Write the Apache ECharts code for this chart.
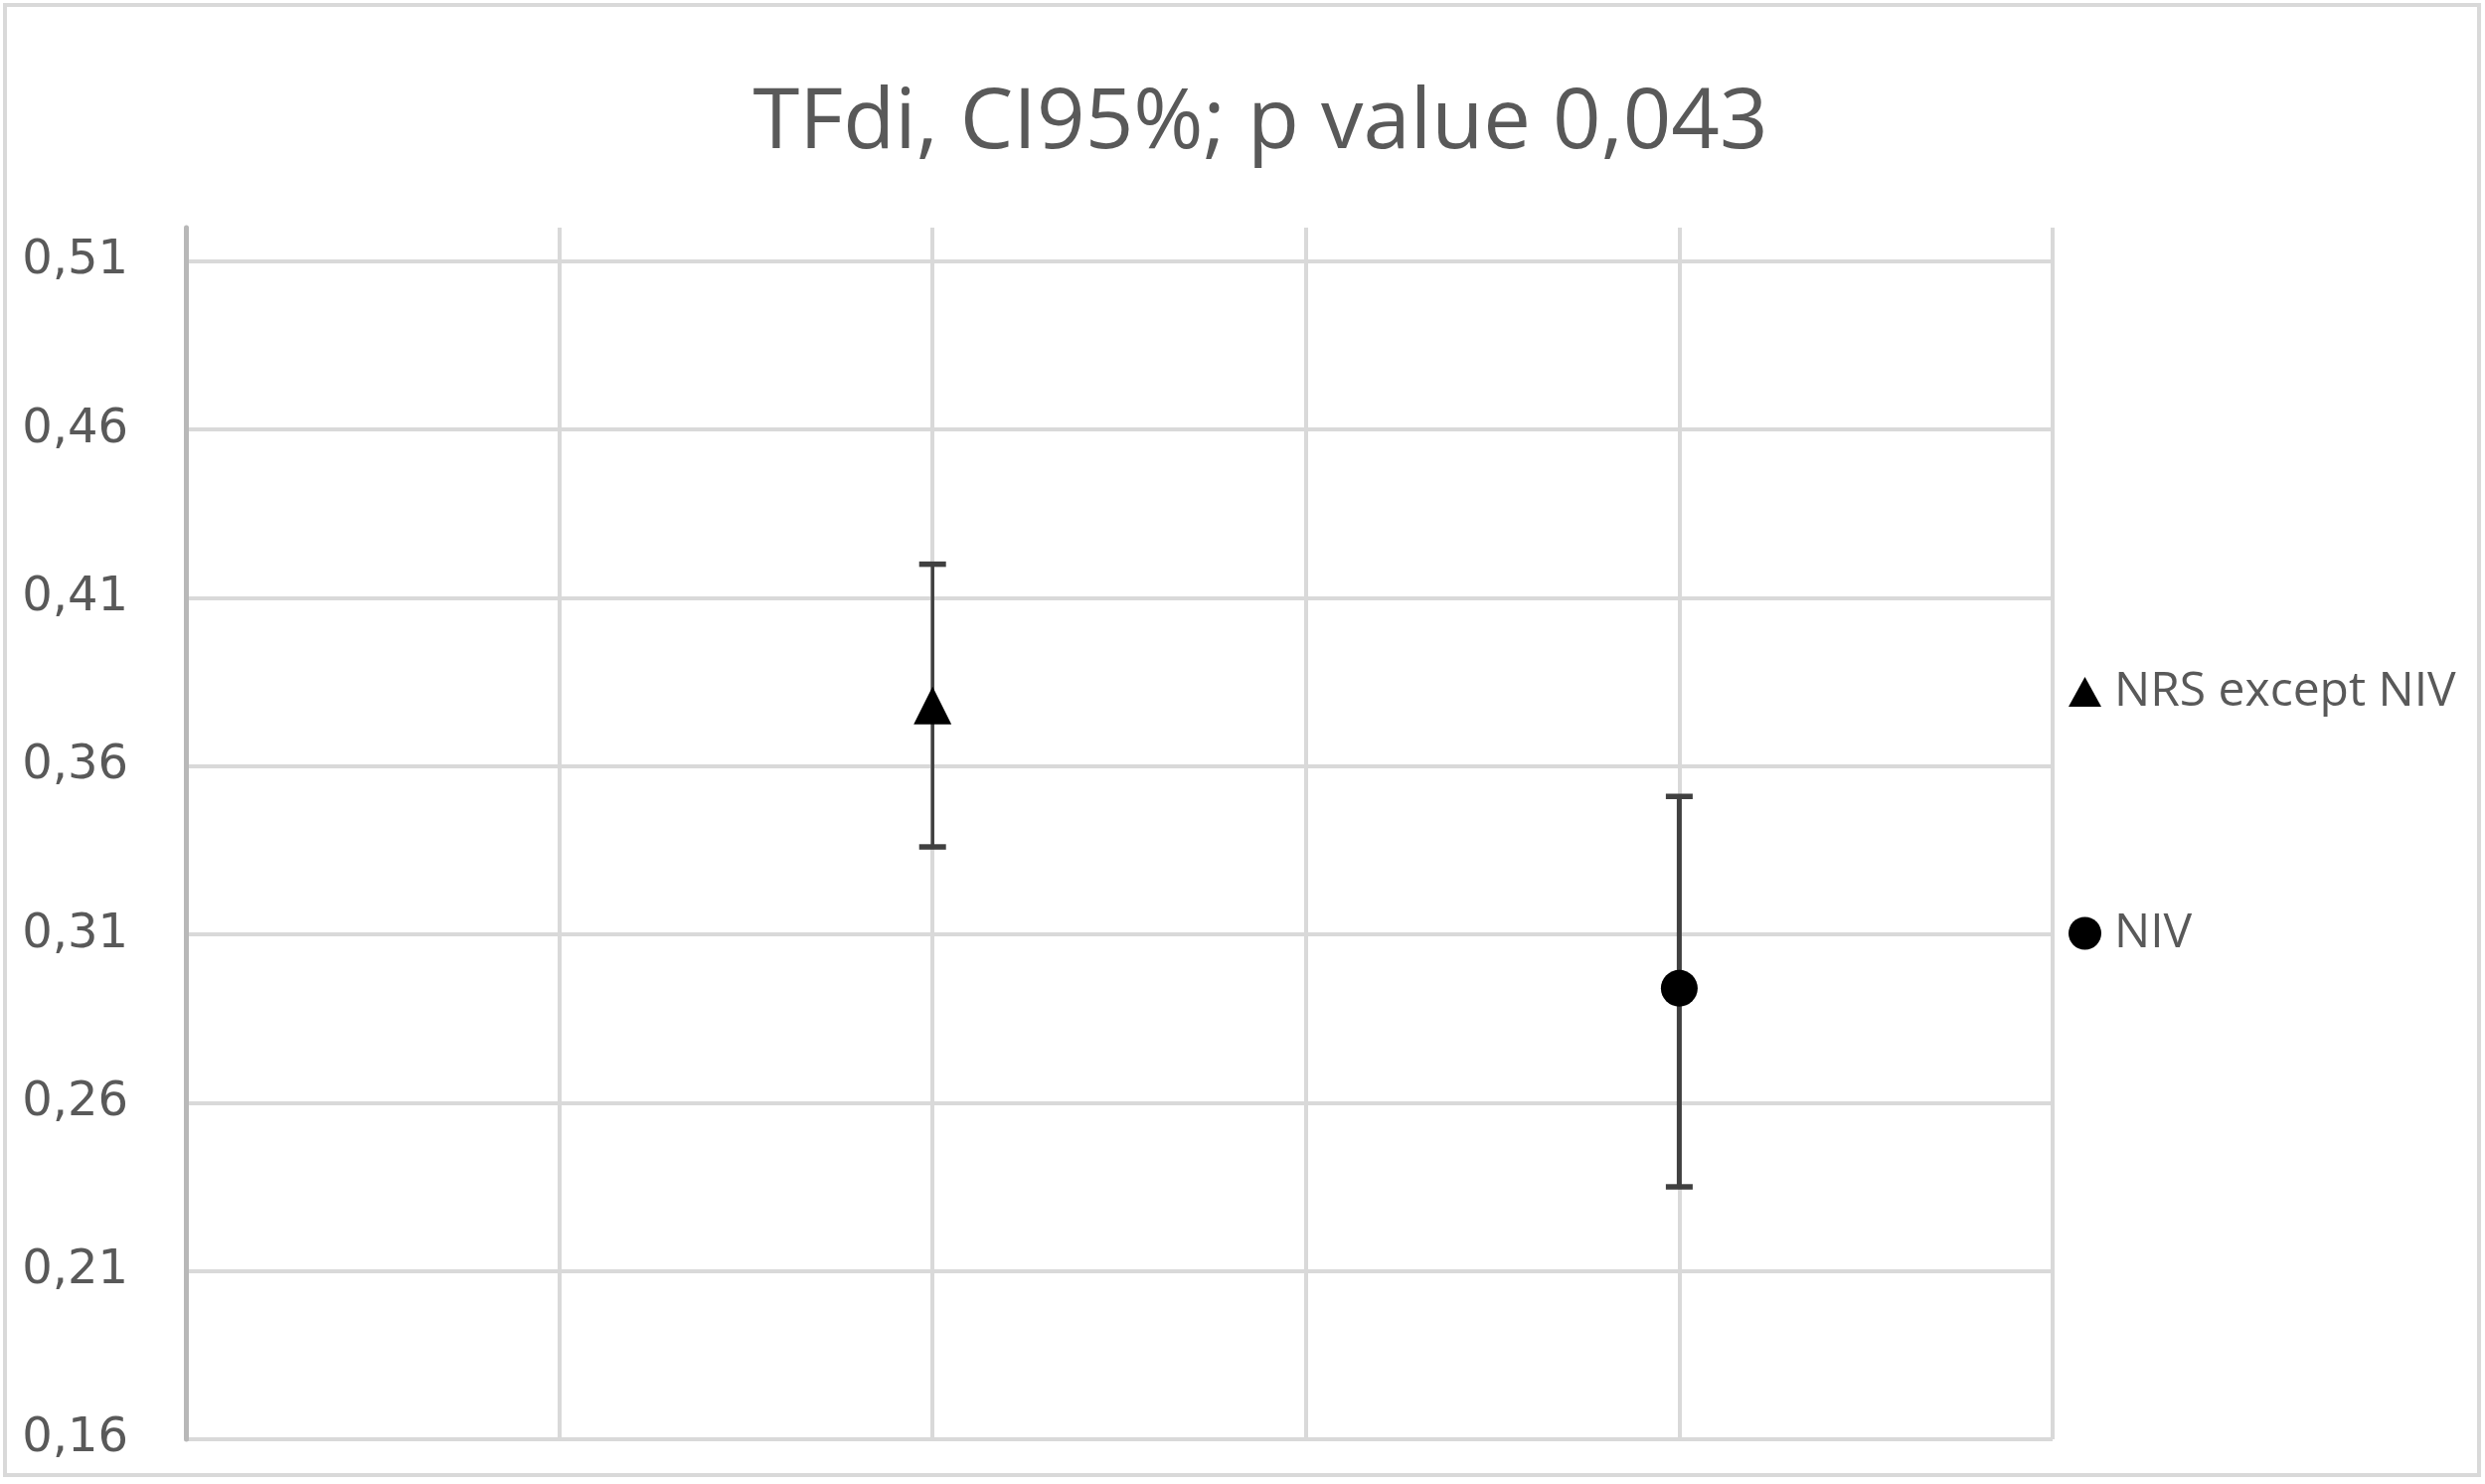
<!DOCTYPE html>
<html>
<head>
<meta charset="utf-8">
<title>TFdi, CI95%</title>
<script src="https://cdn.jsdelivr.net/npm/echarts@6/dist/echarts.min.js"></script>
<style>
  html, body { margin: 0; padding: 0; background: #fff; }
  #chart { width: 2500px; height: 1493px; }
</style>
</head>
<body>
<div id="chart"></div>
<script>
// groups and their 95% CI
const groups = ['NRS except NIV', 'NIV']
const xPos = [1, 2]
const means = [0.378, 0.294]
const ciLow = [0.336, 0.235]
const ciHigh = [0.420, 0.351]
const symbols = ['triangle', 'circle']

// axis range
const yMin = 0.16
const yMax = 0.52
const yStep = 0.05
const xMin = 0
const xMax = 2.5
const xStep = 0.5

const myChart = echarts.init(document.getElementById('chart'))

const barWidths = [3.5, 5]
const markerSizes = [[38, 38], 37]

const series = []
groups.forEach((name, i) => {
  // error bar
  series.push({
    type: 'custom',
    name: name + ' CI',
    z: 2,
    silent: true,
    data: [[xPos[i], ciLow[i], ciHigh[i]]],
    encode: { x: 0, y: [1, 2] },
    renderItem: (params, api) => {
      const lo = api.coord([api.value(0), api.value(1)])
      const hi = api.coord([api.value(0), api.value(2)])
      const half = 13.5
      const style = { stroke: '#404040', lineWidth: barWidths[i] }
      const capStyle = { stroke: '#404040', lineWidth: 5.5 }
      return {
        type: 'group',
        children: [
          { type: 'line', shape: { x1: lo[0], y1: lo[1], x2: hi[0], y2: hi[1] }, style: style },
          { type: 'line', shape: { x1: lo[0] - half, y1: lo[1], x2: lo[0] + half, y2: lo[1] }, style: capStyle },
          { type: 'line', shape: { x1: hi[0] - half, y1: hi[1], x2: hi[0] + half, y2: hi[1] }, style: capStyle }
        ]
      }
    }
  })
  // mean marker
  series.push({
    type: 'scatter',
    name: name,
    z: 3,
    symbol: symbols[i],
    symbolSize: markerSizes[i],
    itemStyle: { color: '#000', opacity: 1 },
    data: [[xPos[i], means[i]]]
  })
})

myChart.setOption({
  animation: false,
  backgroundColor: '#fff',
  title: {
    text: 'TFdi, CI95%; p value 0,043',
    left: 1268,
    top: 82,
    textAlign: 'center',
    padding: 0,
    textStyle: {
      fontFamily: 'Open Sans',
      fontSize: 85,
      fontWeight: 'normal',
      color: '#595959'
    }
  },
  legend: [
    {
      data: [groups[0]],
      orient: 'vertical',
      left: 2081,
      top: 672,
      padding: 0,
      itemWidth: 33,
      itemHeight: 30,
      textStyle: { fontFamily: 'Open Sans', fontSize: 48, color: '#595959', lineHeight: 30, padding: [0, 0, 0, 8] }
    },
    {
      data: [groups[1]],
      orient: 'vertical',
      left: 2081,
      top: 915,
      padding: 0,
      itemWidth: 33,
      itemHeight: 33,
      textStyle: { fontFamily: 'Open Sans', fontSize: 48, color: '#595959', lineHeight: 33, padding: [0, 0, 0, 8] }
    }
  ],
  grid: {
    left: 187,
    right: 435,
    top: 229,
    bottom: 45
  },
  xAxis: {
    type: 'value',
    min: xMin,
    max: xMax,
    interval: xStep,
    axisLine: { show: false },
    axisTick: { show: false },
    axisLabel: { show: false },
    splitLine: { show: true, lineStyle: { color: '#d9d9d9', width: 4 } }
  },
  yAxis: {
    type: 'value',
    min: yMin,
    max: yMax,
    interval: yStep,
    axisLine: { show: true, lineStyle: { color: '#b8b8b8', width: 5 } },
    axisTick: { show: false },
    axisLabel: {
      showMaxLabel: false,
      margin: 58,
      align: 'right',
      fontFamily: 'DejaVu Sans',
      fontSize: 48,
      color: '#595959',
      formatter: (v) => v.toFixed(2).replace('.', ',')
    },
    splitLine: { show: true, showMaxLine: false, lineStyle: { color: '#d9d9d9', width: 4 } }
  },
  graphic: [
    {
      type: 'rect',
      silent: true,
      shape: { x: 5, y: 5, width: 2489, height: 1479 },
      style: { fill: 'none', stroke: '#d9d9d9', lineWidth: 4 }
    }
  ],
  series: series
})

window.addEventListener('resize', () => {
  myChart.resize()
})
</script>
</body>
</html>
